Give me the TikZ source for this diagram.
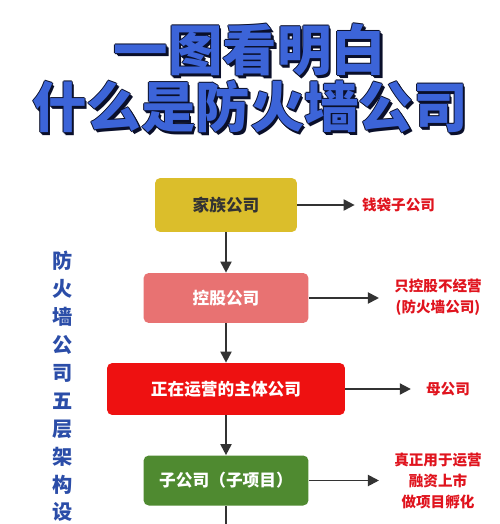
\documentclass[tikz,border=0pt]{standalone}
\usepackage{fontspec}
\setmainfont{Noto Sans CJK SC}
\usetikzlibrary{arrows.meta}
\definecolor{title-blue}{HTML}{3C64D8}
\definecolor{title-dark}{HTML}{0A0F2A}
\definecolor{side-blue}{HTML}{2B4DA8}
\definecolor{family-yellow}{HTML}{DBBE2B}
\definecolor{holding-pink}{HTML}{E87272}
\definecolor{main-red}{HTML}{EE1111}
\definecolor{sub-green}{HTML}{4F8A30}
\definecolor{note-red}{HTML}{E0141E}
\definecolor{line-dark}{HTML}{333333}

\tikzset{
  layer/.style={rounded corners=3pt, inner sep=0pt, font=\fontsize{9.5}{11}\selectfont\bfseries,
    text=white},
  note/.style={align=center, text=note-red, inner sep=0pt,
    font=\fontsize{8.3}{11.8}\selectfont\bfseries},
  flow/.style={-{Triangle[length=2.2mm,width=2.2mm]}, line width=1.1pt, color=line-dark},
  titletext/.style={font=\fontsize{31}{31}\selectfont\bfseries, inner sep=0pt}
}

\begin{document}
\begin{tikzpicture}[x=0.02cm, y=-0.02cm]
    % Picture in pixel units: 500 x 524, y grows downward.
    %   title lines at y=50 and y=107
    %   layer boxes centred at x=226: y=205, 298, 389, 480
    %   notes on the right, side text at x=63
    \useasboundingbox (0,0) rectangle (500,524);
    \clip (0,0) rectangle (500,524);
    \fill[white] (0,0) rectangle (500,524);

    % title: dark outline and shadow under the blue text
    \foreach \dx/\dy in {-1/0, 1/0, 0/-1, 0/1, 1.5/1.5, 2.5/2.5} {
      \node[titletext, text=title-dark] (shadowA) at (250+\dx,50+\dy) {一图看明白};
      \node[titletext, text=title-dark] (shadowB) at (250+\dx,107+\dy) {什么是防火墙公司};
    }
    \node[titletext, text=title-blue] (titleA) at (250,50) {一图看明白};
    \node[titletext, text=title-blue] (titleB) at (250,107) {什么是防火墙公司};

    % side caption
    \node[align=center, text=side-blue, inner sep=0pt,
          font=\fontsize{11.5}{15.9}\selectfont\bfseries] (side) at (63,386.5)
          {防\\火\\墙\\公\\司\\五\\层\\架\\构\\设};

    % the five layers (fifth one below the picture edge)
    \node[layer, fill=family-yellow, text=line-dark, minimum width=2.84cm,
          minimum height=1.08cm] (family) at (226,205) {家族公司};
    \node[layer, fill=holding-pink, minimum width=3.3cm,
          minimum height=1.0cm] (holding) at (226,298) {控股公司};
    \node[layer, fill=main-red, minimum width=4.76cm,
          minimum height=1.04cm] (operating) at (226,389) {正在运营的主体公司};
    \node[layer, fill=sub-green, minimum width=3.3cm,
          minimum height=1.0cm] (subsidiary) at (226,480.5) {子公司（子项目）};
    \coordinate (below) at (226,540);

    % notes
    \node[note] (pocket) at (398.5,205) {钱袋子公司};
    \node[note] (firewall) at (438,297) {只控股不经营\\(防火墙公司)};
    \node[note] (parent) at (448,389) {母公司};
    \node[note] (project) at (438,481) {真正用于运营\\融资上市\\做项目孵化};

    \draw[flow] (family) -- (holding);
    \draw[flow] (holding) -- (operating);
    \draw[flow] (operating) -- (subsidiary);
    \draw[flow] (subsidiary) -- (below);

    \draw[flow, shorten >=4pt] (family.east) -- (pocket.west |- family.east);
    \draw[flow, shorten >=8.5pt] (holding.east) -- (firewall.west |- holding.east);
    \draw[flow, shorten >=8.5pt] (operating.east) -- (parent.west |- operating.east);
    \draw[flow, shorten >=8.5pt] (subsidiary.east) -- (project.west |- subsidiary.east);
\end{tikzpicture}
\end{document}
